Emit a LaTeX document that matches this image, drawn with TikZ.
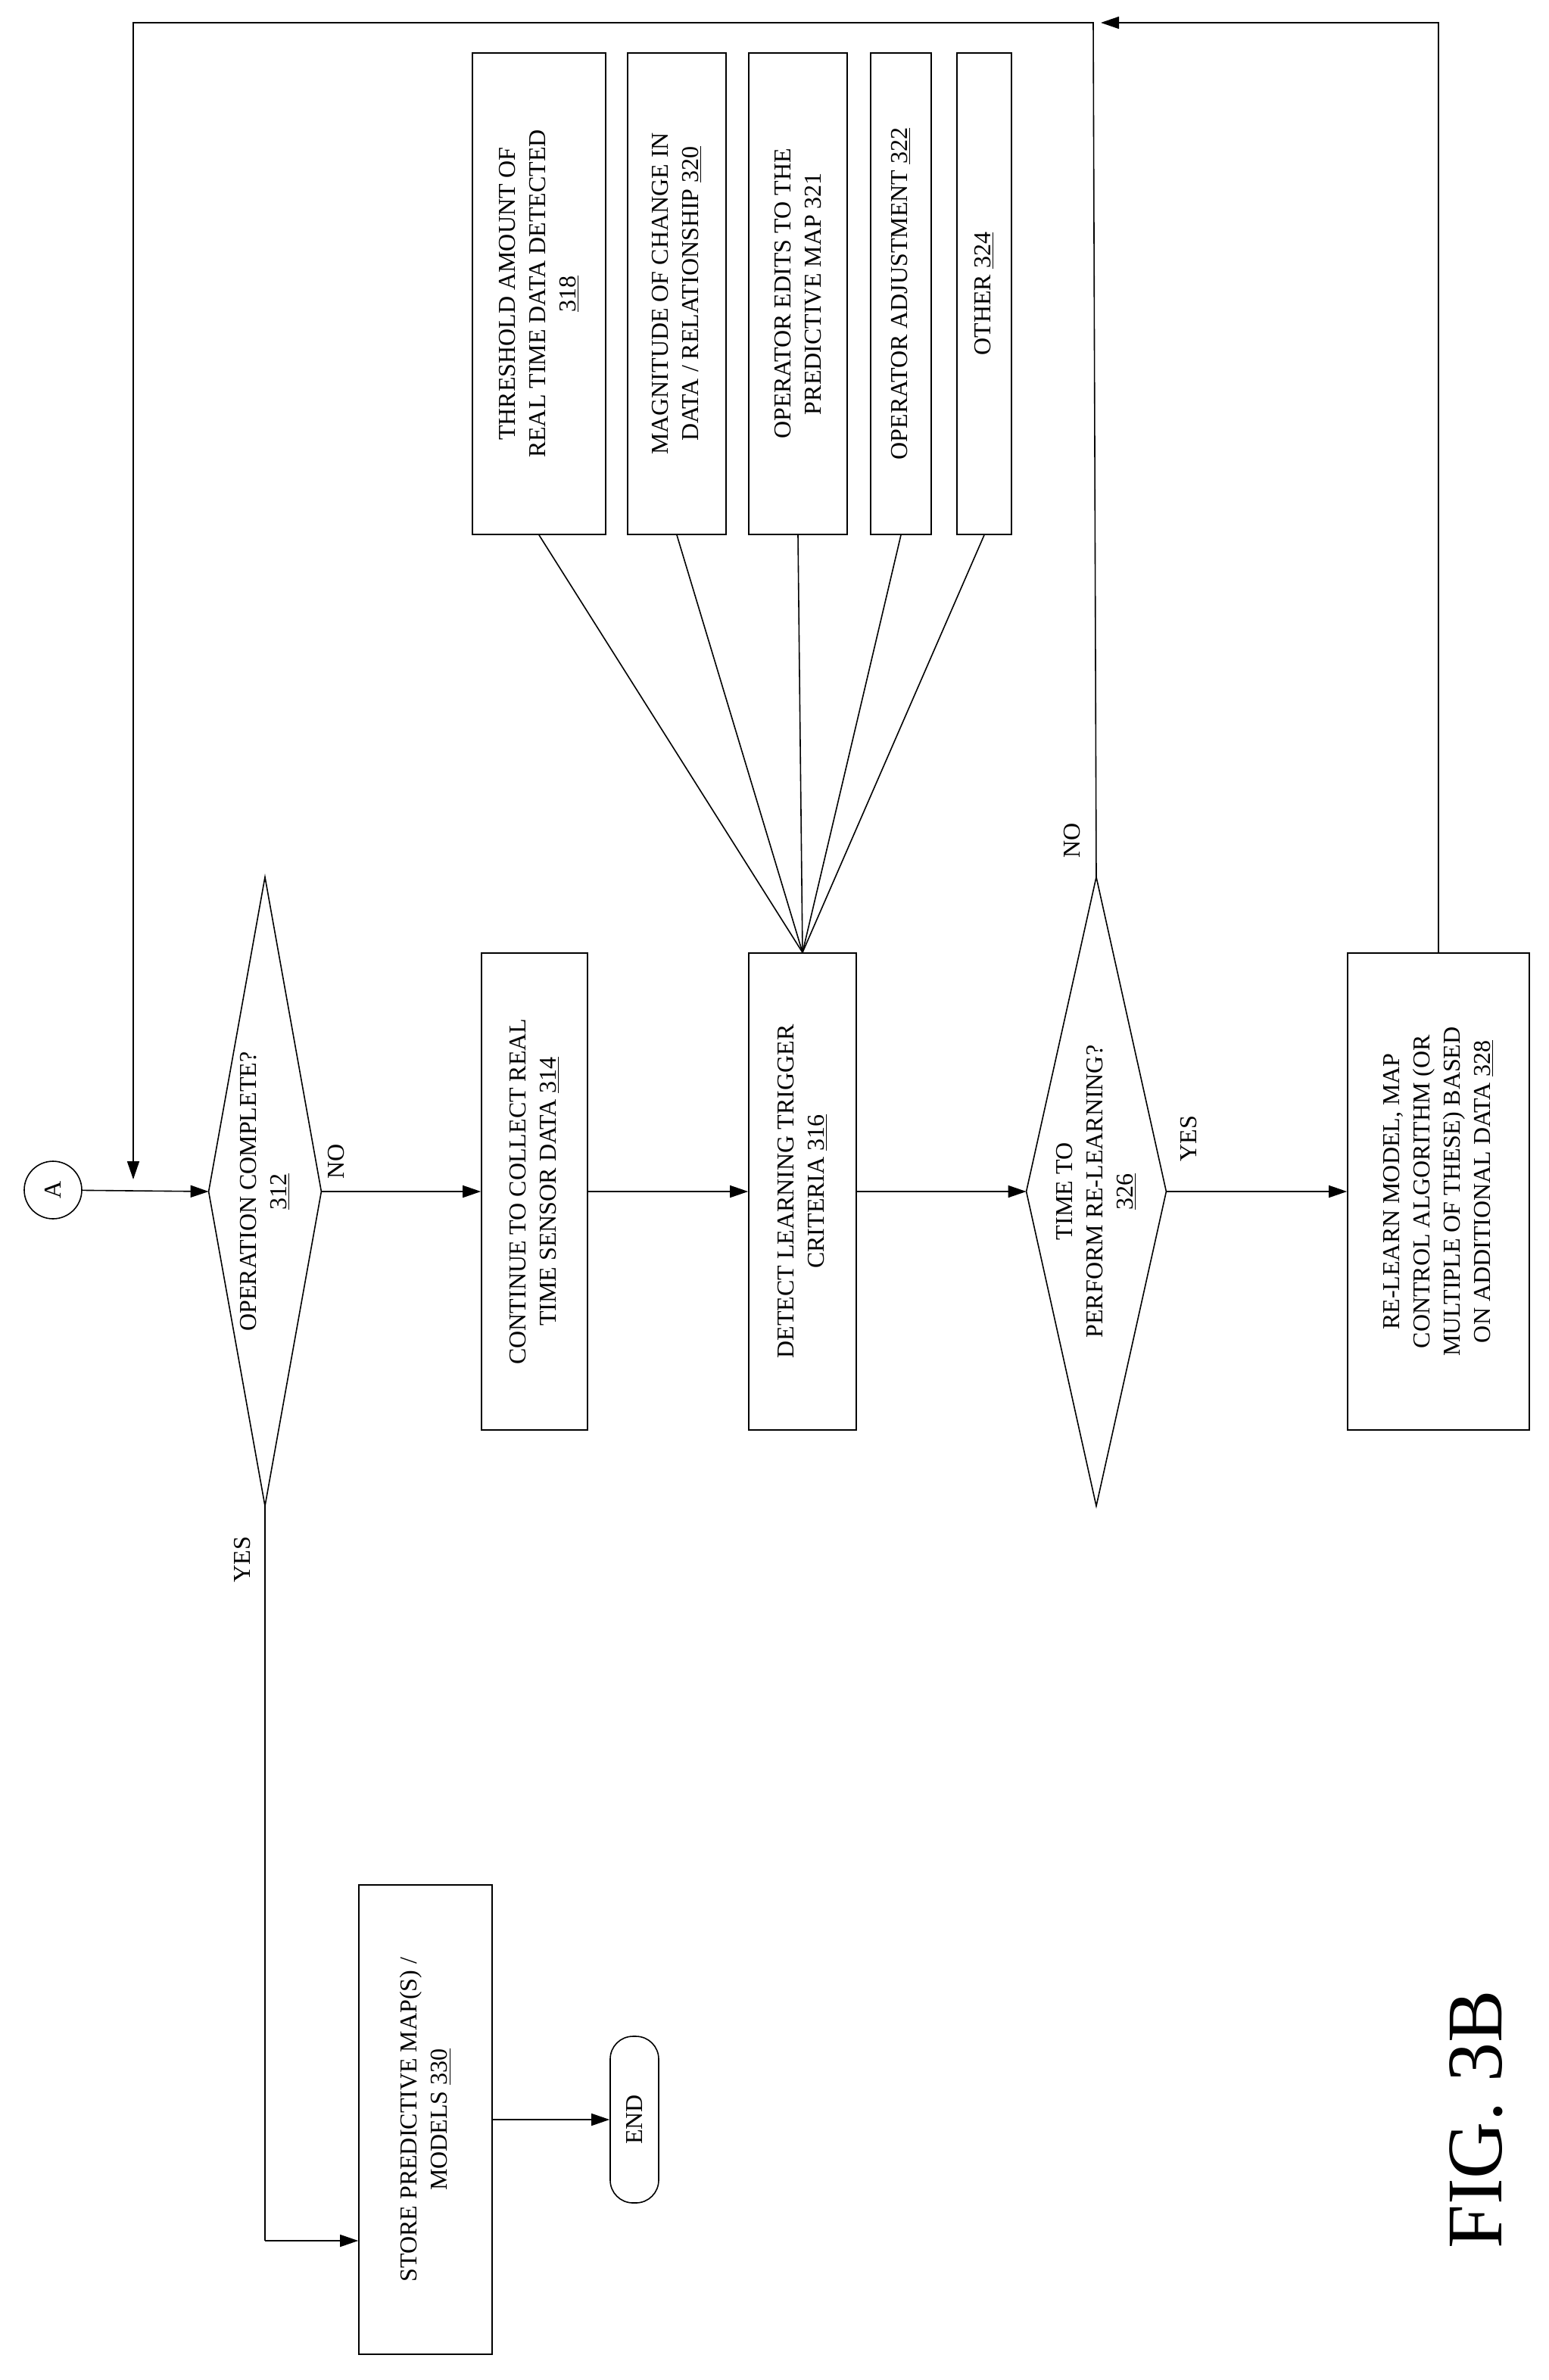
\documentclass[tikz,border=0pt]{standalone}
\usepackage{fontspec}
\setmainfont{Liberation Serif}
\usetikzlibrary{shapes.geometric,arrows.meta}
\tikzset{
  box/.style={draw,thick,rotate=90,align=center,inner sep=2pt},
  dec/.style={rotate=90,align=center,inner sep=0pt},
  flow/.style={thick,-{Triangle[length=12pt,width=8pt]}},
  lbl/.style={rotate=90}
}
\newcommand{\rhomb}[1]{\draw[thick] (#1.north) -- (#1.east) -- (#1.south) -- (#1.west) -- cycle;}
\begin{document}
\begin{tikzpicture}[x=1pt,y=1pt]
  \fontsize{16}{20}\selectfont
  \useasboundingbox (0,0) rectangle (1023,-1572);
  \node[draw,thick,circle,minimum size=38pt,inner sep=0pt,lbl] (A) at (35,-786) {A};
  \node[dec,minimum width=415pt,minimum height=74pt] (d312) at (175,-787) {OPERATION COMPLETE?\\\underline{312}};
  \node[box,minimum width=315pt,minimum height=70pt] (b314) at (353,-787) {CONTINUE TO COLLECT REAL\\TIME SENSOR DATA \underline{314}};
  \node[box,minimum width=315pt,minimum height=71pt] (b316) at (530,-787) {DETECT LEARNING TRIGGER\\CRITERIA \underline{316}};
  \node[dec,minimum width=415pt,minimum height=92pt] (d326) at (724,-787) {TIME TO\\PERFORM RE-LEARNING?\\\underline{326}};
  \node[box,minimum width=315pt,minimum height=120pt] (b328) at (950,-787) {RE-LEARN MODEL, MAP\\CONTROL ALGORITHM (OR\\MULTIPLE OF THESE) BASED\\ON ADDITIONAL DATA \underline{328}};
  \node[box,minimum width=318pt,minimum height=88pt] (b318) at (356,-194) {THRESHOLD AMOUNT OF\\REAL TIME DATA DETECTED\\\underline{318}};
  \node[box,minimum width=318pt,minimum height=65pt] (b320) at (447,-194) {MAGNITUDE OF CHANGE IN\\DATA / RELATIONSHIP \underline{320}};
  \node[box,minimum width=318pt,minimum height=65pt] (b321) at (527,-194) {OPERATOR EDITS TO THE\\PREDICTIVE MAP 321};
  \node[box,minimum width=318pt,minimum height=40pt] (b322) at (595,-194) {OPERATOR ADJUSTMENT \underline{322}};
  \node[box,minimum width=318pt,minimum height=36pt] (b324) at (650,-194) {OTHER \underline{324}};
  \node[box,minimum width=310pt,minimum height=88pt] (b330) at (281,-1400) {STORE PREDICTIVE MAP(S) /\\MODELS \underline{330}};
  \node[draw,thick,rounded corners=15pt,rotate=90,minimum width=110pt,minimum height=32pt] (end) at (419,-1400) {END};
  \node[lbl,font=\fontsize{52}{56}\selectfont] (fig) at (975,-1400) {FIG. 3B};
  \node[lbl] (no312) at (222,-767) {NO};
  \node[lbl] (yes312) at (160,-1030) {YES};
  \node[lbl] (no326) at (708,-555) {NO};
  \node[lbl] (yes326) at (785,-752) {YES};
  \rhomb{d312}
  \rhomb{d326}
  \coordinate (jA) at (88,-779);
  \coordinate (jB) at (727,-15);
  \coordinate (ys) at (175,-1480);
  % main flow
  \draw[flow] (A) -- (d312.north);
  \draw[flow] (d312.south) -- (b314.north);
  \draw[flow] (b314.south) -- (b316.north);
  \draw[flow] (b316.south) -- (d326.north);
  \draw[flow] (d326.south) -- (b328.north);
  \draw[thick] (d326.east) -- (722,-15) -| (88,-500);
  \draw[flow] (88,-500) -- (jA);
  \draw[flow] (b328.east) |- (jB);
  % trigger criteria
  \foreach \b in {b318,b320,b321,b322,b324}
    \draw[thick] (\b.west) -- (b316.east);
  % completion
  \draw[thick] (d312.west) -- (ys);
  \draw[flow] (ys) -- (b330.north |- ys);
  \draw[flow] (b330.south) -- (end.north);
\end{tikzpicture}
\end{document}
